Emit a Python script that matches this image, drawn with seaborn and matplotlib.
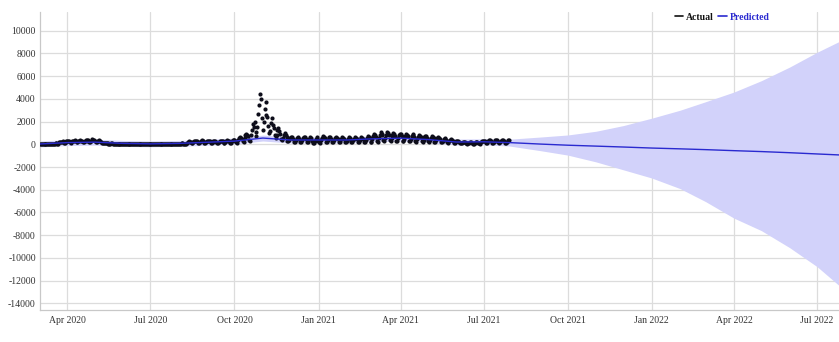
import numpy as np
import pandas as pd
import matplotlib
matplotlib.use("Agg")
import matplotlib.pyplot as plt
import matplotlib.dates as mdates
from matplotlib.lines import Line2D
import seaborn as sns

# Daily observed values, one row per week, starting Monday 2020-03-02
actual = [
    10, 15, 8, 20, 12, 5, 3,
    15, 25, 30, 22, 35, 10, 8,
    40, 55, 70, 90, 110, 60, 50,
    160, 210, 240, 220, 260, 140, 120,
    230, 280, 310, 270, 300, 170, 150,
    250, 330, 290, 360, 310, 180, 160,
    270, 310, 380, 330, 300, 190, 170,
    290, 350, 320, 400, 340, 200, 180,
    300, 460, 380, 340, 320, 190, 170,
    260, 300, 350, 280, 240, 150, 120,
    120, 140, 110, 100, 90, 60, 50,
    70, 80, 90, 60, 55, 40, 30,
    50, 60, 70, 55, 45, 30, 25,
    45, 55, 60, 50, 40, 25, 20,
    40, 50, 55, 45, 40, 20, 20,
    35, 45, 50, 40, 35, 20, 15,
    30, 40, 45, 40, 30, 15, 15,
    30, 40, 40, 35, 30, 15, 10,
    30, 35, 40, 35, 30, 15, 10,
    35, 40, 45, 40, 35, 15, 15,
    40, 45, 50, 45, 40, 20, 15,
    45, 55, 60, 50, 45, 25, 20,
    60, 75, 80, 70, 65, 30, 25,
    150, 220, 260, 240, 200, 110, 90,
    200, 280, 320, 300, 260, 130, 110,
    220, 300, 340, 310, 270, 140, 120,
    210, 280, 330, 300, 250, 130, 110,
    190, 260, 300, 280, 240, 120, 100,
    200, 270, 320, 290, 250, 130, 110,
    230, 310, 360, 330, 280, 150, 130,
    270, 360, 420, 380, 330, 180, 150,
    380, 520, 640, 560, 480, 300, 240,
    520, 780, 950, 840, 700, 420, 330,
    800, 1300, 1750, 1500, 2000, 1050, 700,
    1500, 2700, 3500, 4400, 3950, 2300, 1300,
    2000, 3100, 2600, 3700, 2400, 1600, 1000,
    1200, 1900, 2300, 1700, 1400, 800, 560,
    850, 1250, 1450, 1150, 950, 480, 380,
    580, 820, 980, 780, 660, 320, 260,
    380, 560, 680, 600, 500, 220, 180,
    350, 520, 640, 580, 470, 200, 160,
    360, 540, 660, 600, 480, 210, 170,
    340, 500, 620, 560, 300, 150, 130,
    330, 480, 600, 300, 420, 180, 150,
    380, 560, 700, 620, 520, 230, 180,
    370, 540, 680, 610, 500, 220, 180,
    350, 520, 640, 580, 480, 210, 170,
    340, 500, 620, 560, 460, 200, 160,
    330, 490, 600, 540, 450, 200, 160,
    340, 500, 610, 550, 460, 200, 160,
    360, 530, 650, 590, 490, 220, 170,
    400, 590, 720, 650, 540, 240, 190,
    480, 700, 900, 820, 680, 300, 240,
    560, 820, 1100, 950, 780, 340, 280,
    580, 850, 1050, 980, 800, 350, 290,
    560, 820, 1000, 930, 760, 330, 280,
    520, 780, 950, 880, 720, 310, 260,
    500, 760, 920, 850, 700, 300, 250,
    480, 720, 880, 800, 660, 290, 240,
    450, 680, 820, 750, 620, 270, 220,
    420, 630, 760, 700, 580, 250, 200,
    390, 580, 700, 640, 530, 230, 190,
    350, 520, 620, 570, 470, 210, 170,
    300, 450, 540, 490, 400, 180, 150,
    250, 370, 440, 400, 330, 150, 120,
    180, 260, 300, 280, 230, 110, 90,
    120, 170, 200, 180, 150, 80, 70,
    110, 150, 180, 160, 140, 70, 60,
    120, 160, 190, 170, 150, 75, 65,
    200, 280, 330, 300, 260, 130, 110,
    230, 320, 380, 350, 300, 150, 120,
    240, 340, 400, 360, 310, 160, 130,
    230, 330, 390, 350, 300, 150, 120,
    220, 320, 370, 340,
]
actual_start = "2020-03-02"

# Model fit and forecast with its uncertainty interval
fit_dates = [
    "2020-03-02", "2020-04-01", "2020-05-01", "2020-06-01", "2020-07-01",
    "2020-08-01", "2020-09-01", "2020-10-01", "2020-11-01", "2020-12-01",
    "2021-01-01", "2021-02-01", "2021-03-01", "2021-04-01", "2021-05-01",
    "2021-06-01", "2021-07-01", "2021-07-29", "2021-09-01", "2021-10-01",
    "2021-11-01", "2021-12-01", "2022-01-01", "2022-02-01", "2022-03-01",
    "2022-04-01", "2022-05-01", "2022-06-01", "2022-07-01", "2022-07-29",
]
yhat = [
    30, 150, 190, 80, 40,
    80, 180, 280, 550, 380,
    380, 380, 480, 540, 420,
    200, 220, 150, 20, -80,
    -160, -240, -330, -400, -470,
    -560, -640, -740, -850, -950,
]
yhat_lower = [
    -230, -110, -70, -180, -220,
    -180, -80, 20, 290, 120,
    120, 120, 220, 280, 160,
    -60, -40, -150, -560, -950,
    -1550, -2250, -2970, -3900, -5050,
    -6500, -7600, -9100, -10770, -12700,
]
yhat_upper = [
    290, 410, 450, 340, 300,
    340, 440, 540, 810, 640,
    640, 640, 740, 800, 680,
    460, 480, 450, 640, 820,
    1150, 1650, 2300, 3000, 3750,
    4600, 5600, 6800, 8100, 9200,
]

y_ticks = list(range(-14000, 10001, 2000))
x_ticks = ["2020-04-01", "2020-07-01", "2020-10-01", "2021-01-01", "2021-04-01",
           "2021-07-01", "2021-10-01", "2022-01-01", "2022-04-01", "2022-07-01"]

obs = pd.DataFrame({
    "ds": pd.date_range(actual_start, periods=len(actual), freq="D"),
    "y": actual,
})
fc = pd.DataFrame({
    "ds": pd.to_datetime(fit_dates),
    "yhat": yhat,
    "lower": yhat_lower,
    "upper": yhat_upper,
})

sns.set_theme(style="white")
plt.rcParams["font.family"] = ["Liberation Serif", "DejaVu Serif"]
plt.rcParams["axes.unicode_minus"] = False

fig = plt.figure(figsize=(8.39, 3.42), dpi=100)
ax = fig.add_axes([40 / 839, 1 - 310 / 342, 1 - 40 / 839, (310 - 12) / 342])

band_color = "#d2d2fa"
line_color = "#2a2ad0"

ax.fill_between(fc["ds"], fc["lower"], fc["upper"], color=band_color,
                linewidth=0, zorder=1)
sns.scatterplot(data=obs, x="ds", y="y", ax=ax, color="#0d0d1a", s=9,
                linewidth=0, zorder=3, legend=False)
sns.lineplot(data=fc, x="ds", y="yhat", ax=ax, color=line_color,
             linewidth=1.0, zorder=4, legend=False)

ax.set_xlim(pd.Timestamp("2020-03-02"), pd.Timestamp("2022-07-25"))
ax.set_ylim(-14586, 11646)
ax.set_yticks(y_ticks)
ax.set_xticks(pd.to_datetime(x_ticks))
ax.xaxis.set_major_formatter(mdates.DateFormatter("%b %Y"))
ax.set_xlabel("")
ax.set_ylabel("")

ax.grid(True, color="#dcdcdc", linewidth=0.9, zorder=0)
ax.set_axisbelow(True)
for side in ("top", "right"):
    ax.spines[side].set_visible(False)
for side in ("left", "bottom"):
    ax.spines[side].set_color("#c8c8c8")
    ax.spines[side].set_linewidth(0.9)
ax.tick_params(axis="both", length=0, labelsize=7, labelcolor="#333333")
ax.tick_params(axis="y", pad=3)
ax.tick_params(axis="x", pad=4)

handles = [Line2D([], [], color="#111111", linewidth=1.2),
           Line2D([], [], color=line_color, linewidth=1.2)]
fig.legend(handles, ["Actual", "Predicted"], loc="center",
           bbox_to_anchor=(722 / 839, 1 - 17 / 342), ncol=2, frameon=False,
           handlelength=0.9, handletextpad=0.3, columnspacing=0.4,
           labelcolor="linecolor",
           prop={"family": "Liberation Serif", "weight": "bold", "size": 7})

fig.savefig("out.png", dpi=100)
